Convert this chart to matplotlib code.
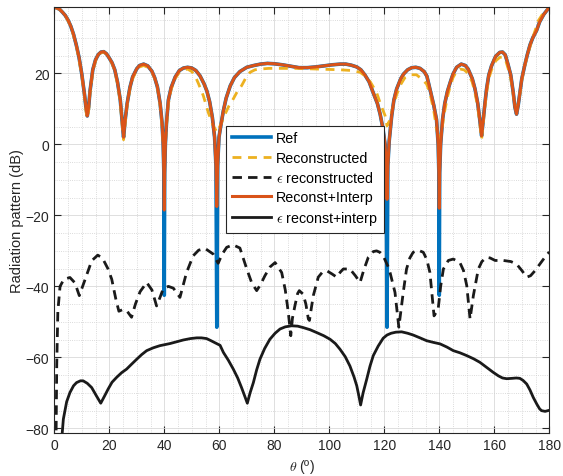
import matplotlib
matplotlib.use("Agg")
import matplotlib.pyplot as plt
from matplotlib.ticker import MultipleLocator

plt.rcParams['font.family'] = ['Liberation Sans', 'DejaVu Sans']
plt.rcParams['mathtext.fontset'] = 'cm'

# angle grid of the array pattern (degrees) with extra samples around the nulls
theta = [0, 1, 2, 3, 4, 5, 6, 7, 8, 9, 10, 11, 11.5, 12, 12.5, 13, 14, 15, 16, 17,
         18, 19, 20, 21, 22, 23, 24, 24.5, 25.2, 25.8, 26.5, 27.5, 28.5, 30, 31, 32.5,
         34, 35.5, 36.5, 37.5, 38.5, 39.2, 39.6, 39.85, 40, 40.15, 40.4, 40.8, 41.5,
         42.5, 44, 45.5, 47, 48.5, 50, 51.5, 53, 54.5, 55.5, 56.5, 57.5, 58.3, 58.8,
         59.1, 59.4, 59.9, 60.5, 61.5, 62.5, 64, 65.5, 67.5, 70, 72.5, 75, 77.5, 80,
         83, 86, 89, 92, 95, 98, 101, 104, 106, 108, 110, 111.5, 113, 114.5, 116,
         117.5, 118.5, 119.5, 120.3, 120.7, 121, 121.3, 121.8, 122.7, 123.5, 124.5,
         126, 127, 128.5, 130, 131.5, 133, 134.5, 135.5, 136.6, 138, 139, 139.6,
         139.85, 140, 140.15, 140.5, 141.2, 142, 143, 144, 145, 146.3, 148, 149.5,
         150.5, 152, 153, 154, 154.8, 155.4, 156, 156.6, 157.2, 158, 159, 160.5, 162,
         163, 164, 165, 166, 166.9, 167.5, 168.1, 168.7, 169.3, 170, 171, 172, 173,
         174, 175.4, 176.5, 178, 179, 180]

ref_db = [38.6, 38.4, 38.0, 37.2, 36.3, 35.0, 33.3, 31.0, 28.0, 24.5, 19.8, 14.0, 10.5,
          8.0, 10.5, 15.0, 21.0, 23.8, 25.3, 26.0, 26.1, 25.5, 24.3, 23.0, 21.0, 17.5,
          12.5, 8.0, 2.0, 7.0, 11.5, 16.0, 19.0, 21.3, 22.2, 22.6, 22.1, 20.6, 18.8,
          16.2, 11.5, 6.0, 0.0, -8.0, -42.5, -8.0, 0.0, 6.0, 12.5, 16.0, 19.0, 20.8,
          21.5, 21.7, 21.5, 20.8, 19.3, 17.0, 15.0, 12.0, 7.5, 2.0, -6.0, -51.5, -6.0,
          2.0, 5.0, 9.5, 13.0, 16.5, 18.8, 20.5, 21.7, 22.2, 22.6, 22.8, 22.7, 22.4,
          22.0, 21.6, 21.6, 21.8, 22.1, 22.4, 22.6, 22.6, 22.3, 21.8, 21.0, 19.5, 17.6,
          14.5, 11.5, 8.5, 4.5, 0.0, -6.0, -51.5, -6.0, 1.0, 8.0, 12.5, 15.6, 18.5,
          19.8, 21.0, 21.6, 21.7, 21.4, 20.5, 19.2, 15.6, 11.0, 7.0, 0.0, -8.0, -42.5,
          -8.0, 0.0, 7.0, 11.5, 15.0, 17.5, 19.8, 21.7, 22.6, 22.2, 21.2, 18.5, 15.6,
          11.5, 6.5, 2.4, 7.0, 11.5, 15.6, 19.5, 22.1, 24.8, 25.9, 26.0, 25.2, 22.5,
          19.5, 14.6, 10.5, 8.5, 11.0, 14.5, 18.4, 22.0, 25.2, 28.0, 30.0, 32.1, 34.5,
          36.6, 37.6, 38.6]

# depth reached by the interpolated reconstruction at the four deep nulls
interp_null_db = {40: -18.5, 59.1: -17.5, 121: -15.5, 140: -18.0}
interp_db = [interp_null_db.get(t, v) for t, v in zip(theta, ref_db)]

theta_rec = [0, 2, 4, 6, 8, 10, 11, 11.5, 12, 12.5, 13, 14, 15, 16, 17, 18, 19, 20, 21,
             22, 23, 24, 24.5, 25.2, 25.8, 26.5, 27.5, 28.5, 30, 31, 32.5, 34, 35.5,
             36.5, 37.5, 38.5, 39.2, 39.6, 40, 40.4, 40.8, 41.5, 42.5, 44, 45.5, 47,
             48.5, 50, 51.2, 52.5, 54.2, 56, 57.8, 59.2, 60.5, 62.1, 63.5, 65.1, 66.5,
             68.1, 69.5, 71.2, 73, 74.8, 78, 82, 88, 92, 96.6, 100, 104, 108, 111.2, 113,
             115, 117.2, 118.8, 120.3, 121, 121.8, 123.3, 124.5, 125.7, 127.5, 129.3,
             131.7, 133.5, 135.4, 136.6, 138, 139, 140, 141, 142, 143, 144, 145, 146.3,
             147.5, 149, 150.5, 152, 153, 154, 154.8, 155.4, 156, 156.6, 157.2, 158,
             159, 160.5, 162, 163, 164, 165, 166, 166.9, 167.5, 168.1, 168.7, 169.3,
             170, 171, 172, 174, 176, 178, 180]
rec_db = [38.6, 38.0, 36.3, 33.3, 28.0, 19.5, 13.5, 9.5, 7.3, 9.5, 14.5, 20.5, 23.5,
          25.0, 25.8, 26.0, 25.4, 24.2, 22.8, 20.8, 17.0, 12.0, 7.0, 1.3, 6.0, 11.0,
          15.5, 18.5, 21.0, 21.8, 22.2, 21.7, 20.4, 18.6, 16.0, 11.0, 5.0, 0.5, -2.2,
          0.5, 5.0, 11.5, 15.5, 18.6, 20.3, 21.0, 21.2, 20.5, 19.3, 17.0, 13.7, 9.0,
          5.2, 3.4, 5.5, 8.5, 10.8, 12.8, 14.8, 16.5, 18.5, 20.3, 21.0, 21.2, 21.4,
          21.4, 21.4, 21.3, 21.2, 21.1, 21.0, 20.8, 20.3, 19.3, 17.5, 14.6, 11.0, 8.1,
          5.2, 6.5, 10.9, 14.0, 16.5, 18.8, 19.6, 19.6, 18.5, 17.0, 14.5, 9.5, 4.5, 0.6,
          4.5, 9.5, 13.5, 16.5, 18.8, 20.6, 21.2, 21.0, 20.0, 17.5, 14.5, 10.5, 5.5,
          1.5, 6.0, 10.5, 14.5, 18.5, 21.0, 23.5, 24.5, 24.6, 24.0, 21.5, 18.5, 14.0,
          11.0, 9.8, 11.5, 14.0, 18.0, 21.8, 25.0, 30.0, 34.8, 37.2, 38.6]

# error of the plain reconstruction
theta_err_rec = [0.5, 0.9, 1.3, 2.1, 3.5, 5.7, 7.5, 9.1, 11, 13.6, 15.8, 17.5, 19.5,
                 20.9, 22.5, 23.5, 25, 26.5, 28.1, 29.5, 31.2, 33.6, 35.5, 37.2, 38.5,
                 39.6, 41.5, 43.3, 45.7, 48.1, 50.5, 52.5, 54.8, 57.8, 59.6, 61, 62.7,
                 65, 67.5, 70, 71.8, 73.6, 75, 76.6, 78.5, 80.3, 82.7, 84, 85.1, 86,
                 86.6, 87.5, 88.5, 89.1, 90.5, 91.5, 92.4, 92.8, 93.5, 94.2, 96, 97.5,
                 99.1, 101, 102.7, 104, 105.1, 107.5, 109.5, 111.2, 112.5, 114.2, 116,
                 117.2, 118.4, 119.6, 121.5, 122.1, 123.9, 125.3, 126.9, 128.1, 129.3,
                 130.5, 132.3, 134.2, 135.5, 136.6, 138.1, 139.6, 140.5, 141.5, 143.3,
                 145.1, 147.5, 148.8, 150, 151.2, 152.4, 154.2, 155.5, 157.2, 158.5,
                 160.3, 163.3, 166, 168.1, 170, 171.8, 173.2, 174.8, 176.5, 178.4, 180]
err_rec_db = [-95, -62, -47, -40, -38, -37.5, -39, -42.6, -38.5, -32.8, -31.2, -32, -35,
              -38, -44, -47, -46.5, -47, -48.7, -45, -41.5, -38.9, -41, -45.5, -43,
              -40.7, -40, -40.5, -43.1, -36.1, -31.4, -29.8, -29.3, -30.9, -33.5, -31,
              -29, -28.3, -29.2, -35.1, -39, -41.2, -39.5, -37, -34.5, -33.3, -36.1, -41,
              -47.3, -53.9, -49, -45.5, -42, -41.2, -42.2, -45, -49.2, -49.6, -46, -42.6,
              -37.4, -36, -35.6, -36.5, -37.4, -36, -35.1, -35.1, -37, -38.9, -35.5,
              -31.8, -30.2, -30, -30.4, -31.4, -34.6, -36.1, -41.7, -51.5, -41.7, -35.1,
              -32, -30.4, -29.8, -30.4, -32.5, -36.1, -48.3, -46.4, -40, -35.1, -32.7,
              -32.3, -33.3, -35.5, -39.8, -49.2, -42.6, -35.1, -33, -31.8, -32, -32.7,
              -32.7, -33, -33.7, -35.5, -37.4, -37, -35.6, -33.8, -31.8, -30.3]

# error of the reconstruction with interpolation
theta_err_int = [2.4, 3.3, 4.5, 5.7, 7, 8.1, 9.5, 10.5, 12, 13.6, 15.3, 16.9, 18.2, 19.6,
                 21, 22.7, 24.5, 26.3, 28, 30, 31.8, 33.6, 36, 38.4, 42.1, 44.5, 46.9,
                 49.5, 51.8, 53.5, 55.4, 57, 58.5, 60.3, 61.5, 63.3, 65.1, 66.7, 68.1,
                 69.3, 70.2, 71.2, 72.4, 73.6, 74.8, 76.5, 78.4, 80.3, 82.1, 84, 86.3,
                 88.5, 90.5, 93, 95.4, 98, 100.3, 102.2, 103.9, 105.8, 107.5, 109, 110,
                 110.8, 111.4, 112.3, 113.6, 114.8, 116, 117.8, 119.6, 121, 122.5, 124.2,
                 126.3, 128.5, 130.5, 133, 135.4, 138, 140.3, 142.8, 145.1, 147.5, 150,
                 152.5, 154.8, 157.2, 159.6, 161.5, 163, 164.5, 166.5, 168, 169.3, 170.5,
                 171.8, 173, 174.2, 175.5, 176.5, 177.2, 178.5, 180]
err_int_db = [-86, -77.4, -72.5, -69.9, -68, -67.1, -66.6, -66.6, -67.3, -68.5, -70.8,
              -72.9, -71, -68.9, -67, -65.6, -64.3, -63.3, -62, -60.5, -59.2, -58.1,
              -57.3, -56.7, -56.1, -55.6, -55.1, -54.7, -54.5, -54.5, -54.7, -55.3,
              -55.9, -56.6, -58.6, -60.8, -63.3, -65.8, -68.5, -71, -72.9, -70, -67.1,
              -63.5, -60.5, -57.5, -54.9, -53.2, -52.0, -51.4, -51.1, -51.2, -51.6,
              -52.2, -53.0, -53.9, -54.9, -56.1, -57.7, -59.8, -62.4, -65.5, -68.0, -71,
              -73.4, -70, -66.2, -62.5, -59.5, -56.8, -54.6, -53.7, -53.2, -52.9, -52.8,
              -53.2, -53.7, -54.5, -55.3, -55.8, -56.2, -57.1, -58.1, -58.7, -59.5,
              -60.4, -61.4, -62.8, -64.2, -65.2, -65.8, -66.0, -65.9, -65.8, -65.9,
              -66.5, -67.5, -69.2, -71.3, -73.2, -74.5, -75.0, -75.2, -74.9]

fig = plt.figure(figsize=(5.63, 4.77), dpi=100)
ax = fig.add_axes([0.0964, 0.0901, 0.8792, 0.8925])

ax.plot(theta, ref_db, color='#0072BD', lw=2.6, label='Ref')
ax.plot(theta_rec, rec_db, color='#EDB120', lw=2.0, dashes=(3.2, 2.4),
        label='Reconstructed')
ax.plot(theta_err_rec, err_rec_db, color='#1a1a1a', lw=2.0, dashes=(3.4, 2.2),
        label=r'$\epsilon$ reconstructed')
ax.plot(theta, interp_db, color='#D95319', lw=2.2, label='Reconst+Interp')
ax.plot(theta_err_int, err_int_db, color='#1a1a1a', lw=2.0,
        label=r'$\epsilon$ reconst+interp')

ax.set_xlim(0, 180)
ax.set_ylim(-81.3, 38.6)
ax.xaxis.set_major_locator(MultipleLocator(20))
ax.xaxis.set_minor_locator(MultipleLocator(5))
ax.yaxis.set_major_locator(MultipleLocator(20))
ax.yaxis.set_minor_locator(MultipleLocator(5))

ax.grid(which='major', color='#d9d9d9', lw=0.6, ls='-')
ax.grid(which='minor', color='#cfcfcf', lw=0.6, ls=':')
ax.set_axisbelow(True)

ax.tick_params(which='major', direction='in', length=5, width=0.8, top=True,
               right=True, labelsize=10, colors='#262626')
ax.tick_params(which='minor', length=0, top=True, right=True)
for s in ax.spines.values():
    s.set_color('#262626')
    s.set_linewidth(0.8)

ax.set_xlabel(r'$\theta$ (º)', fontsize=10, color='#262626')
ax.set_ylabel('Radiation pattern (dB)', fontsize=10.5, color='#262626', labelpad=1)

leg = ax.legend(loc='upper left', bbox_to_anchor=(0.347, 0.722), fontsize=10.3,
                frameon=True, fancybox=False, framealpha=1, edgecolor='#262626',
                handlelength=2.75, handletextpad=0.35, labelspacing=0.36,
                borderpad=0.4, borderaxespad=0)
leg.get_frame().set_linewidth(0.8)

fig.savefig('out.png', dpi=100)
